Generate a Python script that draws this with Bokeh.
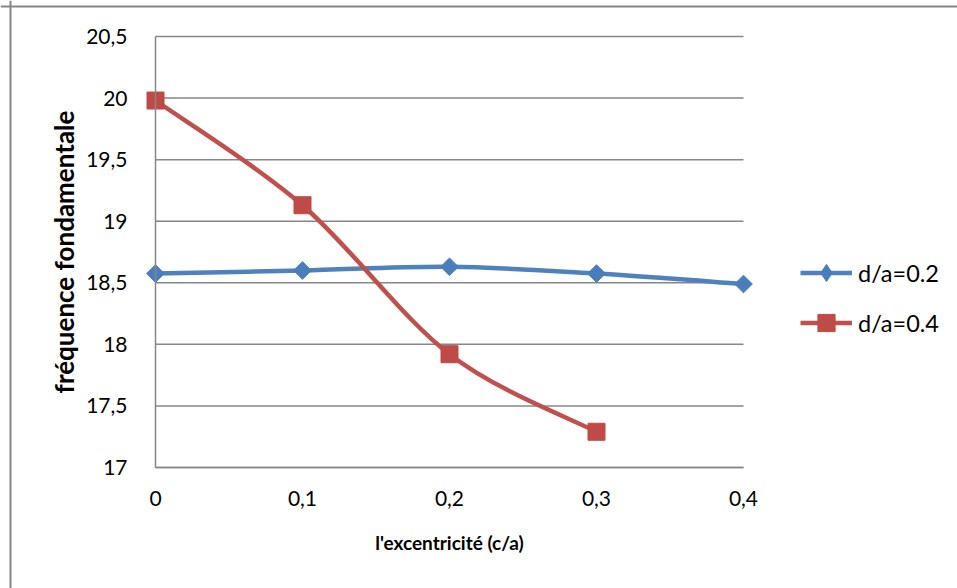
import math
from bokeh.plotting import figure
from bokeh.models import FixedTicker, Legend, LegendItem, Span, ColumnDataSource
from bokeh.embed import file_html
from bokeh.resources import INLINE

# ---- data ----
ratio_02 = [0, 0.1, 0.2, 0.3, 0.4]
freq_02 = [18.575, 18.60, 18.63, 18.575, 18.49]
ratio_04 = [0, 0.1, 0.2, 0.3]
freq_04 = [19.98, 19.13, 17.92, 17.29]
series_names = ["d/a=0.2", "d/a=0.4"]
x_ticks = [0, 0.1, 0.2, 0.3, 0.4]
x_tick_labels = ["0", "0,1", "0,2", "0,3", "0,4"]
y_ticks = [17, 17.5, 18, 18.5, 19, 19.5, 20, 20.5]
y_tick_labels = ["17", "17,5", "18", "18,5", "19", "19,5", "20", "20,5"]
x_title = "l'excentricité (c/a)"
y_title = "fréquence fondamentale"

FONT = "Lato"
GRID = "#868686"
BLUE = "#4A7EBB"
BLUE_LINE = "#4F81BD"
RED = "#BE4B48"
RED_LINE = "#C0504D"

W, H = 957, 588
# plot-area placement (pixels) inside the canvas
PL, PR, PT, PB = 155, 743, 36, 467
xlo, xhi = x_ticks[0], x_ticks[-1]
ylo, yhi = y_ticks[0], y_ticks[-1]
sx = (PR - PL) / (xhi - xlo)
sy = (PB - PT) / (yhi - ylo)
x_range = (xlo - PL / sx, xhi + (W - PR) / sx)
y_range = (ylo - (H - PB) / sy, yhi + PT / sy)


def smooth_segments(xs, ys):
    """Bezier segments through the data points (Excel-like smoothed line)."""
    n = len(xs)
    pts = list(zip(xs, ys))
    d = dict(x0=[], y0=[], x1=[], y1=[], cx0=[], cy0=[], cx1=[], cy1=[])
    for i in range(n - 1):
        p0 = pts[max(i - 1, 0)]
        p1 = pts[i]
        p2 = pts[i + 1]
        p3 = pts[min(i + 2, n - 1)]
        d["x0"].append(p1[0]); d["y0"].append(p1[1])
        d["x1"].append(p2[0]); d["y1"].append(p2[1])
        d["cx0"].append(p1[0] + (p2[0] - p0[0]) / 6)
        d["cy0"].append(p1[1] + (p2[1] - p0[1]) / 6)
        d["cx1"].append(p2[0] - (p3[0] - p1[0]) / 6)
        d["cy1"].append(p2[1] - (p3[1] - p1[1]) / 6)
    return ColumnDataSource(d)


p = figure(width=W, height=H, output_backend="svg", toolbar_location=None,
           x_range=x_range, y_range=y_range,
           min_border=0, min_border_left=0, min_border_right=0,
           min_border_top=0, min_border_bottom=0)
p.background_fill_color = "white"
p.border_fill_color = "white"
p.outline_line_color = None

# axes (pinned at x=0 and y=17)
p.xaxis.fixed_location = ylo
p.yaxis.fixed_location = xlo
p.xaxis.bounds = (xlo, xhi)
p.yaxis.bounds = (ylo, yhi)
p.xaxis.ticker = FixedTicker(ticks=x_ticks)
p.xaxis.major_label_overrides = {t: l for t, l in zip(x_ticks, x_tick_labels)}
p.yaxis.ticker = FixedTicker(ticks=y_ticks)
p.yaxis.major_label_overrides = {t: l for t, l in zip(y_ticks, y_tick_labels)}
for ax in (p.xaxis[0], p.yaxis[0]):
    ax.axis_line_color = GRID
    ax.axis_line_width = 1.5
    ax.major_tick_line_color = None
    ax.minor_tick_line_color = None
    ax.major_label_text_font = FONT
    ax.major_label_text_font_size = "21px"
    ax.major_label_text_color = "black"
    ax.axis_label_text_font = FONT
    ax.axis_label_text_font_style = "bold"
    ax.axis_label_text_color = "black"
p.xaxis.axis_label = x_title
p.yaxis.axis_label = y_title
p.xaxis.major_label_standoff = 17
p.yaxis.major_label_standoff = 22
p.xaxis.axis_label_standoff = 22
p.yaxis.axis_label_standoff = 3
p.xaxis.axis_label_text_font_size = "19px"
p.yaxis.axis_label_text_font_size = "26px"

p.xgrid.grid_line_color = None
p.ygrid.grid_line_color = None
# horizontal gridlines across the plot area only
p.segment(x0=[xlo] * len(y_ticks), x1=[xhi] * len(y_ticks), y0=y_ticks, y1=y_ticks,
          line_color=GRID, line_width=1.5, level="underlay")

# series
src02 = smooth_segments(ratio_02, freq_02)
src04 = smooth_segments(ratio_04, freq_04)
p.bezier("x0", "y0", "x1", "y1", "cx0", "cy0", "cx1", "cy1", source=src02,
         line_color=BLUE_LINE, line_width=4.5, line_cap="round")
p.scatter(ratio_02, freq_02, marker="square", size=12.5, angle=math.pi / 4,
          fill_color=BLUE, line_color=BLUE)
p.bezier("x0", "y0", "x1", "y1", "cx0", "cy0", "cx1", "cy1", source=src04,
         line_color=RED_LINE, line_width=4.5, line_cap="round")
m2 = p.scatter(ratio_04, freq_04, marker="square", size=17,
               fill_color=RED, line_color=RED)

# legend glyphs (hidden renderers used only for the legend swatches)
lg1 = p.line(ratio_02[:1], freq_02[:1], line_color=BLUE_LINE, line_width=4.5, visible=False)
lm1 = p.scatter(ratio_02[:1], freq_02[:1], marker="diamond", size=22,
                fill_color=BLUE, line_color=BLUE, visible=False)
lg2 = p.line(ratio_04[:1], freq_04[:1], line_color=RED_LINE, line_width=4.5, visible=False)

legend = Legend(items=[LegendItem(label=series_names[0], renderers=[lg1, lm1]),
                       LegendItem(label=series_names[1], renderers=[lg2, m2])],
                location=(800, 244), orientation="vertical",
                glyph_width=52, glyph_height=43, label_height=26,
                label_standoff=6, spacing=7, padding=0, margin=0,
                border_line_color=None, background_fill_alpha=0,
                inactive_fill_alpha=0,
                label_text_font=FONT, label_text_font_size="23.5px",
                label_text_color="black")
p.add_layout(legend, "center")

# outer chart border (left and top edges visible)
p.add_layout(Span(location=10, location_units="screen", dimension="height",
                  line_color=GRID, line_width=2, level="overlay"))
p.add_layout(Span(location=H - 6, location_units="screen", dimension="width",
                  line_color=GRID, line_width=2, level="overlay"))

open("out.html", "w").write(file_html(p, INLINE))
